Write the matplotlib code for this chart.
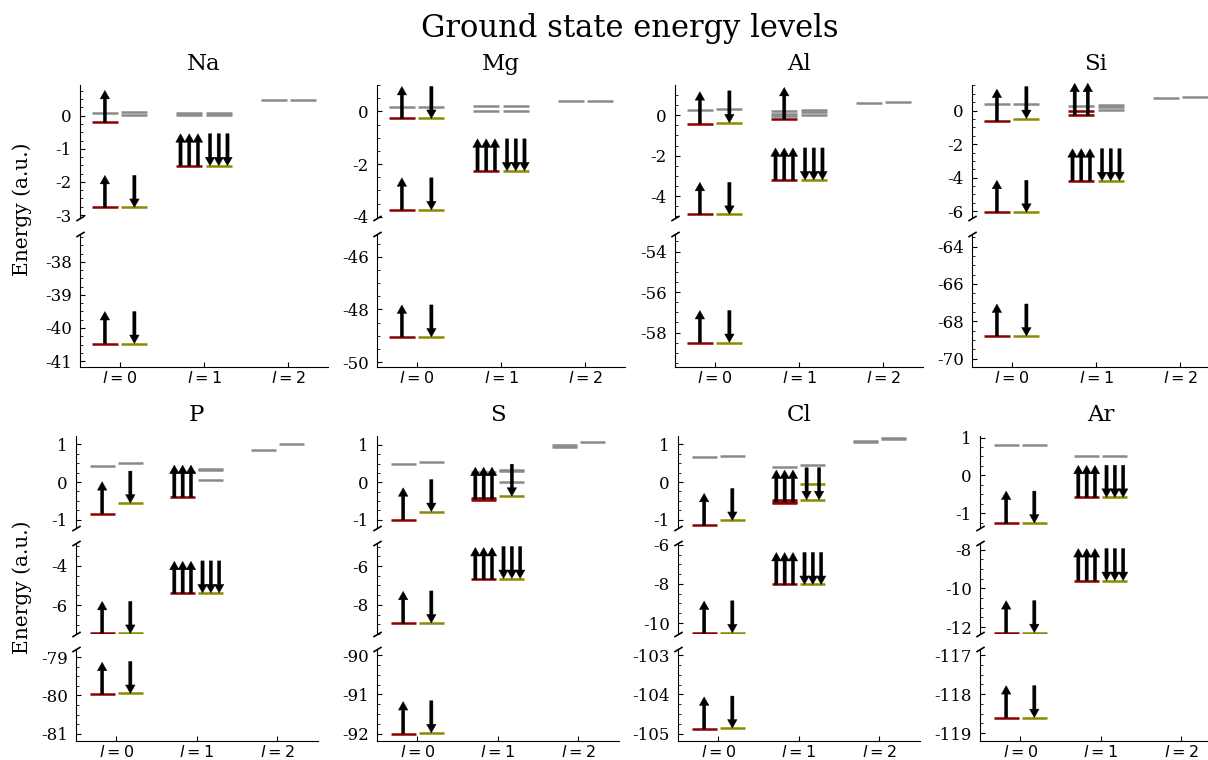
import matplotlib
matplotlib.use('Agg')
import matplotlib.pyplot as plt
from matplotlib.ticker import MultipleLocator, AutoMinorLocator, FuncFormatter

plt.rcParams['font.family'] = 'DejaVu Serif'
plt.rcParams['mathtext.fontset'] = 'dejavusans'
plt.rcParams['axes.unicode_minus'] = False

# ---------------- data ----------------
title = "Ground state energy levels"
ylabel = "Energy (a.u.)"
l_labels = ['$l = 0$', '$l = 1$', '$l = 2$']
elements = ['Na', 'Mg', 'Al', 'Si', 'P', 'S', 'Cl', 'Ar']

# occupied levels: (l, spin, energy)
na_occ = [(0, 'u', -40.47), (0, 'd', -40.47), (0, 'u', -2.77), (0, 'd', -2.77),
          (1, 'u', -1.51), (1, 'd', -1.51), (0, 'u', -0.20)]
mg_occ = [(0, 'u', -49.04), (0, 'd', -49.04), (0, 'u', -3.74), (0, 'd', -3.74),
          (1, 'u', -2.26), (1, 'd', -2.26), (0, 'u', -0.27), (0, 'd', -0.27)]
al_occ = [(0, 'u', -58.49), (0, 'd', -58.49), (0, 'u', -4.90), (0, 'd', -4.90),
          (1, 'u', -3.20), (1, 'd', -3.20), (0, 'u', -0.42), (0, 'd', -0.38),
          (1, 'u', -0.21)]
si_occ = [(0, 'u', -68.79), (0, 'd', -68.79), (0, 'u', -6.06), (0, 'd', -6.06),
          (1, 'u', -4.18), (1, 'd', -4.18), (0, 'u', -0.63), (0, 'd', -0.48),
          (1, 'u', -0.05), (1, 'u', -0.28)]
p_occ = [(0, 'u', -79.97), (0, 'd', -79.95), (0, 'u', -7.45), (0, 'd', -7.45),
         (1, 'u', -5.40), (1, 'd', -5.38), (0, 'u', -0.84), (0, 'd', -0.56),
         (1, 'u', -0.40)]
s_occ = [(0, 'u', -92.00), (0, 'd', -91.98), (0, 'u', -8.95), (0, 'd', -8.93),
         (1, 'u', -6.69), (1, 'd', -6.64), (0, 'u', -1.00), (0, 'd', -0.78),
         (1, 'u', -0.42), (1, 'u', -0.47), (1, 'd', -0.37)]
cl_occ = [(0, 'u', -104.88), (0, 'd', -104.86), (0, 'u', -10.51), (0, 'd', -10.50),
          (1, 'u', -8.03), (1, 'd', -8.03), (0, 'u', -1.15), (0, 'd', -1.02),
          (1, 'u', -0.48), (1, 'u', -0.53), (1, 'u', -0.57),
          (1, 'd', -0.04), (1, 'd', -0.47)]
ar_occ = [(0, 'u', -118.60), (0, 'd', -118.60), (0, 'u', -12.29), (0, 'd', -12.29),
          (1, 'u', -9.60), (1, 'd', -9.60), (0, 'u', -1.26), (0, 'd', -1.26),
          (1, 'u', -0.58), (1, 'd', -0.58)]

# electrons drawn as arrows: (l, spin, energy, count)
na_arrows = [(0, 'u', -40.47, 1), (0, 'd', -40.47, 1), (0, 'u', -2.77, 1), (0, 'd', -2.77, 1),
             (1, 'u', -1.51, 3), (1, 'd', -1.51, 3), (0, 'u', -0.20, 1)]
mg_arrows = [(0, 'u', -49.04, 1), (0, 'd', -49.04, 1), (0, 'u', -3.74, 1), (0, 'd', -3.74, 1),
             (1, 'u', -2.26, 3), (1, 'd', -2.26, 3), (0, 'u', -0.27, 1), (0, 'd', -0.27, 1)]
al_arrows = [(0, 'u', -58.49, 1), (0, 'd', -58.49, 1), (0, 'u', -4.90, 1), (0, 'd', -4.90, 1),
             (1, 'u', -3.20, 3), (1, 'd', -3.20, 3), (0, 'u', -0.42, 1), (0, 'd', -0.38, 1),
             (1, 'u', -0.21, 1)]
si_arrows = [(0, 'u', -68.79, 1), (0, 'd', -68.79, 1), (0, 'u', -6.06, 1), (0, 'd', -6.06, 1),
             (1, 'u', -4.18, 3), (1, 'd', -4.18, 3), (0, 'u', -0.63, 1), (0, 'd', -0.48, 1),
             (1, 'u', -0.28, 2)]
p_arrows = [(0, 'u', -79.97, 1), (0, 'd', -79.95, 1), (0, 'u', -7.45, 1), (0, 'd', -7.45, 1),
            (1, 'u', -5.40, 3), (1, 'd', -5.38, 3), (0, 'u', -0.84, 1), (0, 'd', -0.56, 1),
            (1, 'u', -0.40, 3)]
s_arrows = [(0, 'u', -92.00, 1), (0, 'd', -91.98, 1), (0, 'u', -8.95, 1), (0, 'd', -8.93, 1),
            (1, 'u', -6.69, 3), (1, 'd', -6.64, 3), (0, 'u', -1.00, 1), (0, 'd', -0.78, 1),
            (1, 'u', -0.45, 3), (1, 'd', -0.37, 1)]
cl_arrows = [(0, 'u', -104.88, 1), (0, 'd', -104.86, 1), (0, 'u', -10.51, 1), (0, 'd', -10.50, 1),
             (1, 'u', -8.03, 3), (1, 'd', -8.03, 3), (0, 'u', -1.15, 1), (0, 'd', -1.02, 1),
             (1, 'u', -0.53, 3), (1, 'd', -0.47, 2)]
ar_arrows = [(0, 'u', -118.60, 1), (0, 'd', -118.60, 1), (0, 'u', -12.29, 1), (0, 'd', -12.29, 1),
             (1, 'u', -9.60, 3), (1, 'd', -9.60, 3), (0, 'u', -1.26, 1), (0, 'd', -1.26, 1),
             (1, 'u', -0.58, 3), (1, 'd', -0.58, 3)]

# unoccupied levels: (l, spin, energy)
na_emp = [(0, 'u', 0.07), (0, 'd', 0.12), (0, 'd', 0.03), (1, 'u', 0.09), (1, 'u', 0.02),
          (1, 'd', 0.09), (1, 'd', 0.02), (2, 'u', 0.47), (2, 'd', 0.48)]
mg_emp = [(0, 'u', 0.16), (0, 'd', 0.16), (1, 'u', 0.21), (1, 'u', 0.02),
          (1, 'd', 0.21), (1, 'd', 0.02), (2, 'u', 0.41), (2, 'd', 0.41)]
al_emp = [(0, 'u', 0.26), (0, 'd', 0.29), (1, 'u', 0.20), (1, 'u', 0.08), (1, 'u', -0.02),
          (1, 'd', 0.24), (1, 'd', 0.15), (1, 'd', 0.03), (2, 'u', 0.62), (2, 'd', 0.67)]
si_emp = [(0, 'u', 0.36), (0, 'd', 0.40), (1, 'u', 0.26), (1, 'd', 0.31), (1, 'd', 0.20),
          (1, 'd', 0.04), (2, 'u', 0.75), (2, 'd', 0.83)]
p_emp = [(0, 'u', 0.43), (0, 'd', 0.50), (1, 'u', 0.26), (1, 'd', 0.35), (1, 'd', 0.33),
         (1, 'd', 0.04), (2, 'u', 0.85), (2, 'd', 1.01)]
s_emp = [(0, 'u', 0.50), (0, 'd', 0.54), (1, 'u', 0.28), (1, 'd', 0.34), (1, 'd', 0.31),
         (1, 'd', 0.01), (2, 'u', 0.94), (2, 'u', 0.99), (2, 'd', 1.09)]
cl_emp = [(0, 'u', 0.65), (0, 'd', 0.68), (1, 'u', 0.41), (1, 'd', 0.44),
          (2, 'u', 1.05), (2, 'u', 1.09), (2, 'd', 1.13), (2, 'd', 1.16)]
ar_emp = [(0, 'u', 0.80), (0, 'd', 0.80), (1, 'u', 0.51), (1, 'd', 0.51)]

# y ranges of the broken-axis segments (top to bottom)
na_ylims = [(-3.09, 0.93), (-41.18, -37.16)]
mg_ylims = [(-4.05, 1.00), (-50.18, -45.14)]
al_ylims = [(-5.08, 1.49), (-59.70, -53.13)]
si_ylims = [(-6.40, 1.52), (-70.45, -63.33)]
p_ylims = [(-1.22, 1.22), (-7.48, -2.83), (-81.19, -78.79)]
s_ylims = [(-1.22, 1.24), (-9.50, -4.81), (-92.19, -89.84)]
cl_ylims = [(-1.22, 1.22), (-10.56, -5.91), (-105.19, -102.84)]
ar_ylims = [(-1.39, 1.04), (-12.36, -7.66), (-119.20, -116.84)]

# major tick step of each segment
na_steps = [1, 1]
mg_steps = [2, 2]
al_steps = [2, 2]
si_steps = [2, 2]
p_steps = [1, 2, 1]
s_steps = [1, 2, 1]
cl_steps = [1, 2, 1]
ar_steps = [1, 2, 1]

table = {
    'Na': (na_occ, na_arrows, na_emp, na_ylims, na_steps),
    'Mg': (mg_occ, mg_arrows, mg_emp, mg_ylims, mg_steps),
    'Al': (al_occ, al_arrows, al_emp, al_ylims, al_steps),
    'Si': (si_occ, si_arrows, si_emp, si_ylims, si_steps),
    'P': (p_occ, p_arrows, p_emp, p_ylims, p_steps),
    'S': (s_occ, s_arrows, s_emp, s_ylims, s_steps),
    'Cl': (cl_occ, cl_arrows, cl_emp, cl_ylims, cl_steps),
    'Ar': (ar_occ, ar_arrows, ar_emp, ar_ylims, ar_steps),
}

# ---------------- layout / style ----------------
W, H = 1208, 760
fig = plt.figure(figsize=(W / 100, H / 100), dpi=100)

UP_COL = '#8b0000'
DN_COL = '#8b8b00'
EMPTY_COL = '#8a8a8a'
LEVEL_LW = 1.8
HALF = {'u': (-0.33, -0.02), 'd': (0.02, 0.33)}
ARROW_PX = 32      # arrow length in pixels
SHAFT_PX = 3.2     # shaft width in pixels
HEAD_W_PX = 9.5    # head width in pixels
HEAD_L_PX = 8.5    # head length in pixels

row_specs = [
    dict(lefts=[80, 377, 675, 972], width=248, xlim=(-0.47, 2.47),
         segs=[(85, 133), (234, 133)], ylab_y=209),
    dict(lefts=[76, 377, 678, 980], width=241.5, xlim=(-0.5, 2.5),
         segs=[(436, 92), (543, 91), (649, 92)], ylab_y=587),
]


def add_ax(x, y_top, w, h):
    return fig.add_axes([x / W, 1 - (y_top + h) / H, w / W, h / H])


fmt = FuncFormatter(lambda v, p: f'{int(round(v))}')

for idx, el in enumerate(elements):
    row = row_specs[idx // 4]
    col = idx % 4
    occ, arrows, emp, ylims, steps = table[el]
    axes = []
    nseg = len(row['segs'])
    px_per_x = row['width'] / (row['xlim'][1] - row['xlim'][0])
    for k, (yt, hh) in enumerate(row['segs']):
        ax = add_ax(row['lefts'][col], yt, row['width'], hh)
        ax.set_xlim(*row['xlim'])
        lo, hi = ylims[k]
        ax.set_ylim(lo, hi)
        px_per_y = hh / (hi - lo)
        for s in ['top', 'right']:
            ax.spines[s].set_visible(False)
        ax.yaxis.set_major_locator(MultipleLocator(steps[k]))
        ax.yaxis.set_minor_locator(AutoMinorLocator(4))
        ax.yaxis.set_major_formatter(fmt)
        ax.tick_params(axis='y', which='both', direction='in', labelsize=12, pad=6)
        ax.set_xticks([0, 1, 2])
        if k < nseg - 1:
            ax.spines['bottom'].set_visible(False)
            ax.tick_params(axis='x', bottom=False, labelbottom=False)
        else:
            ax.set_xticklabels(l_labels)
            ax.tick_params(axis='x', direction='in', labelsize=11.5, pad=2.5)
        # break marks
        d = 0.6
        mk = dict(marker=[(-1, -d), (1, d)], markersize=6, linestyle='none',
                  color='k', mec='k', mew=1.2, clip_on=False)
        if k > 0:
            ax.plot([0], [1], transform=ax.transAxes, **mk)
        if k < nseg - 1:
            ax.plot([0], [0], transform=ax.transAxes, **mk)

        def inside(E):
            return lo <= E <= hi

        for (l, sp, E) in emp:
            if inside(E):
                a, b = HALF[sp]
                ax.hlines(E, l + a, l + b, color=EMPTY_COL, lw=LEVEL_LW, zorder=2)
        for (l, sp, E) in occ:
            if inside(E):
                a, b = HALF[sp]
                ax.hlines(E, l + a, l + b, color=UP_COL if sp == 'u' else DN_COL,
                          lw=LEVEL_LW, zorder=3)
        L = ARROW_PX / px_per_y
        for (l, sp, E, n) in arrows:
            if inside(E):
                a, b = HALF[sp]
                for i in range(n):
                    x = l + a + (b - a) * (i + 0.5) / n
                    if sp == 'u':
                        y0, dy = E, L
                    else:
                        y0, dy = E + L, -L
                    ax.arrow(x, y0, 0, dy, width=SHAFT_PX / px_per_x,
                             head_width=HEAD_W_PX / px_per_x,
                             head_length=HEAD_L_PX / px_per_y,
                             length_includes_head=True, fc='k', ec='k', lw=0.3,
                             zorder=5, clip_on=False)
        axes.append(ax)
    axes[0].set_title(el, fontsize=16.5, pad=11)

for row in row_specs:
    fig.text(22 / W, 1 - row['ylab_y'] / H, ylabel, rotation=90, fontsize=14.5,
             ha='center', va='center')

fig.text(630 / W, 1 - 28 / H, title, fontsize=22, ha='center', va='center')

fig.savefig('out.png', dpi=100)
